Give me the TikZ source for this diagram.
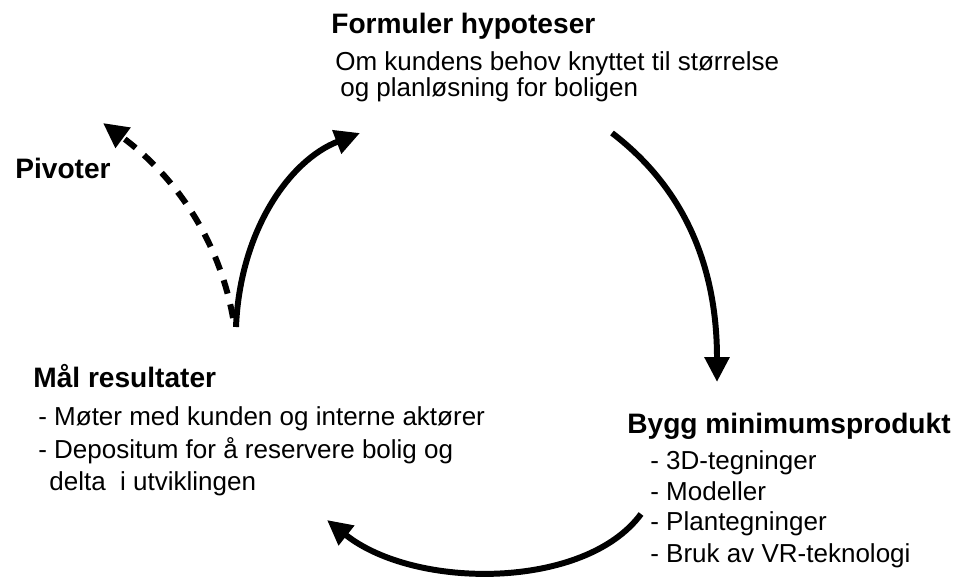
\documentclass[tikz,border=0pt]{standalone}
\usepackage{fontspec}
\setmainfont{Liberation Sans}
\usetikzlibrary{arrows.meta}

\begin{document}
\begin{tikzpicture}[
    x=0.02cm, y=-0.02cm,
    every node/.style={inner sep=0pt, anchor=base west},
    heading/.style={font=\fontsize{16pt}{19pt}\selectfont\bfseries},
    item/.style={font=\fontsize{14.8pt}{17pt}\selectfont},
    flow/.style={line width=3.4pt, -{Triangle[length=0.5cm, width=0.48cm]}},
    pivot/.style={flow, dash pattern=on 0.28cm off 0.22cm}
]
\useasboundingbox (0,0) rectangle (955,578);

% tekst
\node[heading] (formuler) at (331,33) {Formuler hypoteser};
\node[item] (behov1) at (335,70) {Om kundens behov knyttet til størrelse};
\node[item] (behov2) at (340,96) {og planløsning for boligen};

\node[heading] (pivoter) at (15,178) {Pivoter};

\node[heading] (maal) at (33,387) {Mål resultater};
\node[item] (maal1) at (38,425) {- Møter med kunden og interne aktører};
\node[item] (maal2) at (38,458) {- Depositum for å reservere bolig og};
\node[item] (maal3) at (49,490) {delta~ i utviklingen};

\node[heading] (bygg) at (627,433) {Bygg minimumsprodukt};
\node[item] (bygg1) at (650,469) {- 3D-tegninger};
\node[item] (bygg2) at (650,500) {- Modeller};
\node[item] (bygg3) at (650,530) {- Plantegninger};
\node[item] (bygg4) at (650,562) {- Bruk av VR-teknologi};

% endepunkter for pilene
\coordinate (maal-ut) at (236,327);
\coordinate (pivot-fra) at (233,318);
\coordinate (pivot-til) at (103,123);
\coordinate (hyp-inn) at (360,133);
\coordinate (hyp-ut) at (612,133);
\coordinate (bygg-inn) at (717,382);
\coordinate (bygg-ut) at (641,514);
\coordinate (maal-inn) at (327,520);

% sirkelen
\draw[flow] (maal-ut) .. controls (240,230) and (290,160) .. (hyp-inn);
\draw[flow] (hyp-ut) .. controls (680,185) and (717,260) .. (bygg-inn);
\draw[flow] (bygg-ut) .. controls (585,590) and (415,590) .. (maal-inn);
\draw[pivot] (pivot-fra) .. controls (220,245) and (180,180) .. (pivot-til);
\end{tikzpicture}
\end{document}
